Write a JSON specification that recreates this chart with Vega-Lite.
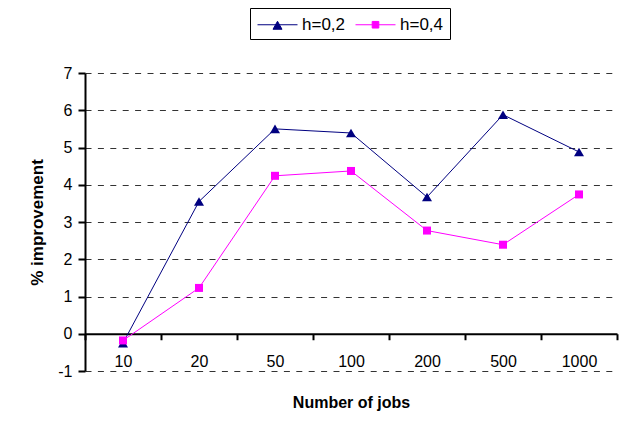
{
  "$schema": "https://vega.github.io/schema/vega-lite/v6.json",
  "autosize": {"type": "none"},
  "padding": {"left": 85, "top": 73, "right": 8, "bottom": 63},
  "width": 532,
  "height": 298,
  "background": "white",
  "config": {
    "font": "Liberation Sans",
    "view": {"stroke": null}
  },
  "data": {
    "values": [
      {"jobs": "10", "series": "h=0,2", "value": -0.25},
      {"jobs": "20", "series": "h=0,2", "value": 3.55},
      {"jobs": "50", "series": "h=0,2", "value": 5.5},
      {"jobs": "100", "series": "h=0,2", "value": 5.39},
      {"jobs": "200", "series": "h=0,2", "value": 3.67},
      {"jobs": "500", "series": "h=0,2", "value": 5.88},
      {"jobs": "1000", "series": "h=0,2", "value": 4.88},
      {"jobs": "10", "series": "h=0,4", "value": -0.18},
      {"jobs": "20", "series": "h=0,4", "value": 1.23},
      {"jobs": "50", "series": "h=0,4", "value": 4.24},
      {"jobs": "100", "series": "h=0,4", "value": 4.37},
      {"jobs": "200", "series": "h=0,4", "value": 2.77},
      {"jobs": "500", "series": "h=0,4", "value": 2.39},
      {"jobs": "1000", "series": "h=0,4", "value": 3.74}
    ]
  },
  "encoding": {
    "x": {
      "field": "jobs",
      "type": "nominal",
      "scale": {"domain": ["10", "20", "50", "100", "200", "500", "1000"], "paddingInner": 0, "paddingOuter": 0},
      "axis": {
        "title": "Number of jobs",
        "titleFontSize": 16,
        "titleFontWeight": "bold",
        "titleColor": "black",
        "titlePadding": 25,
        "labelFontSize": 16,
        "labelColor": "black",
        "labelAngle": 0,
        "labelPadding": 14,
        "tickBand": "extent",
        "tickSize": 6,
        "tickWidth": 2,
        "tickColor": "black",
        "domainColor": "black",
        "domainWidth": 2,
        "grid": false,
        "offset": -37.25
      }
    },
    "y": {
      "field": "value",
      "type": "quantitative",
      "scale": {"domain": [-1, 7], "nice": false, "zero": false},
      "axis": {
        "title": "% improvement",
        "titleFontSize": 17,
        "titleFontWeight": "bold",
        "titleColor": "black",
        "titlePadding": 11,
        "values": [-1, 0, 1, 2, 3, 4, 5, 6, 7],
        "labelExpr": "datum.value < 0 ? '-' + abs(datum.value) : '' + datum.value",
        "labelFontSize": 16,
        "labelColor": "black",
        "labelPadding": 6,
        "tickSize": 7,
        "tickWidth": 2,
        "tickColor": "black",
        "domainColor": "black",
        "domainWidth": 2,
        "grid": true,
        "gridColor": "#333333",
        "gridDash": [6, 6.4],
        "gridWidth": 1
      }
    },
    "color": {
      "field": "series",
      "type": "nominal",
      "scale": {"domain": ["h=0,2", "h=0,4"], "range": ["#000080", "#ff00ff"]},
      "legend": {
        "title": null,
        "orient": "none",
        "legendX": 165,
        "legendY": -65,
        "direction": "horizontal",
        "strokeColor": "black",
        "fillColor": "white",
        "padding": 6,
        "symbolSize": 400,
        "symbolStrokeWidth": 1,
        "labelFontSize": 17,
        "labelColor": "black",
        "labelOffset": 25,
        "columnPadding": 7,
        "encode": {
          "symbols": {
            "update": {
              "shape": {"signal": "datum.value == 'h=0,2' ? 'M-0.9,0H3.1M0.65,0.45L1.1,-0.35L1.55,0.45Z' : 'M-0.9,0H3.1M0.77,-0.33H1.43V0.33H0.77Z'"},
              "size": {"value": 400},
              "fill": {"signal": "scale('color', datum.value)"},
              "stroke": {"signal": "datum.value == 'h=0,2' ? '#3a3a96' : '#ff00ff'"},
              "strokeWidth": {"value": 1},
              "opacity": {"value": 1},
              "fillOpacity": {"value": 1},
              "strokeOpacity": {"value": 1}
            }
          }
        }
      }
    }
  },
  "layer": [
    {
      "mark": {"type": "line", "strokeWidth": 1}
    },
    {
      "transform": [{"filter": "datum.series == 'h=0,2'"}],
      "mark": {"type": "point", "filled": true, "opacity": 1, "shape": "triangle-up", "size": 100}
    },
    {
      "transform": [{"filter": "datum.series == 'h=0,4'"}],
      "mark": {"type": "point", "filled": true, "opacity": 1, "shape": "square", "size": 64}
    }
  ]
}
